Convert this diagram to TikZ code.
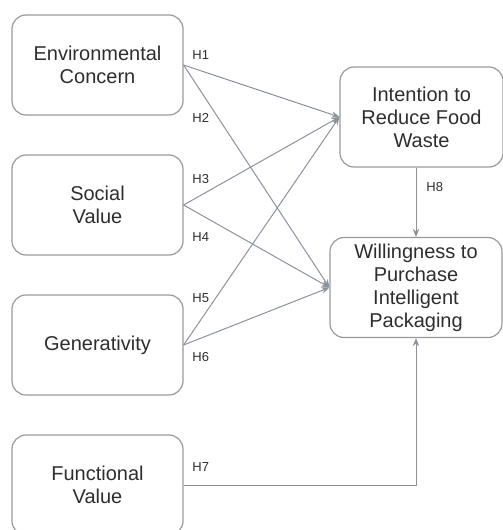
\documentclass[tikz,border=0pt]{standalone}
\usepackage{fontspec}
\setmainfont{Liberation Sans}
\usetikzlibrary{arrows.meta,positioning}
\definecolor{boxline}{HTML}{9A9A9A}
\definecolor{pathline}{HTML}{8C929C}
\definecolor{tipink}{HTML}{3C4A5E}
\definecolor{txtink}{HTML}{2E2E2E}
\tikzset{
  var/.style={draw=boxline, line width=0.6pt, fill=white, rounded corners=7pt, align=center,
    text=txtink, font=\fontsize{10}{11.5}\selectfont, inner sep=2pt},
  src/.style={var, minimum width=85.5pt, minimum height=50pt},
  dst/.style={var, minimum height=50pt},
  hyp/.style={-{Stealth[length=4pt,width=3.2pt]}, draw=pathline, line width=0.5pt, color=pathline},
  hlbl/.style={font=\fontsize{6.5}{7}\selectfont, text=txtink, inner sep=0pt, anchor=west},
}
\begin{document}
\begin{tikzpicture}[x=0.5pt, y=-0.5pt]
  \useasboundingbox (0,0) rectangle (503,530);
  % exogenous constructs
  \node[src] (env) at (97.5,65) {Environmental\\Concern};
  \node[src] (soc) at (97.5,205) {Social\\Value};
  \node[src] (gen) at (97.5,345) {Generativity};
  \node[src] (fun) at (97.5,485) {Functional\\Value};
  % endogenous constructs
  \node[dst, minimum width=81.5pt] (int) at (421.5,117) {Intention to\\Reduce Food\\Waste};
  \node[dst, minimum width=86pt] (wil) at (416,287.5) {Willingness to\\Purchase\\Intelligent\\Packaging};
  % paths
  \draw[hyp] (env.east) -- (int.west);
  \draw[hyp] (env.east) -- (wil.west);
  \draw[hyp] (soc.east) -- (int.west);
  \draw[hyp] (soc.east) -- (wil.west);
  \draw[hyp] (gen.east) -- (int.west);
  \draw[hyp] (gen.east) -- (wil.west);
  \draw[hyp] (wil.north |- int.south) -- (wil.north);
  \draw[hyp] (fun.east) -| (wil.south);
  % hypothesis labels
  \node[hlbl] (h1) at (192,55) {H1};
  \node[hlbl] (h2) at (192,118) {H2};
  \node[hlbl] (h3) at (192,179) {H3};
  \node[hlbl] (h4) at (192,237) {H4};
  \node[hlbl] (h5) at (192,298) {H5};
  \node[hlbl] (h6) at (192,357) {H6};
  \node[hlbl] (h7) at (192,467) {H7};
  \node[hlbl] (h8) at (426,187) {H8};
\end{tikzpicture}
\end{document}
